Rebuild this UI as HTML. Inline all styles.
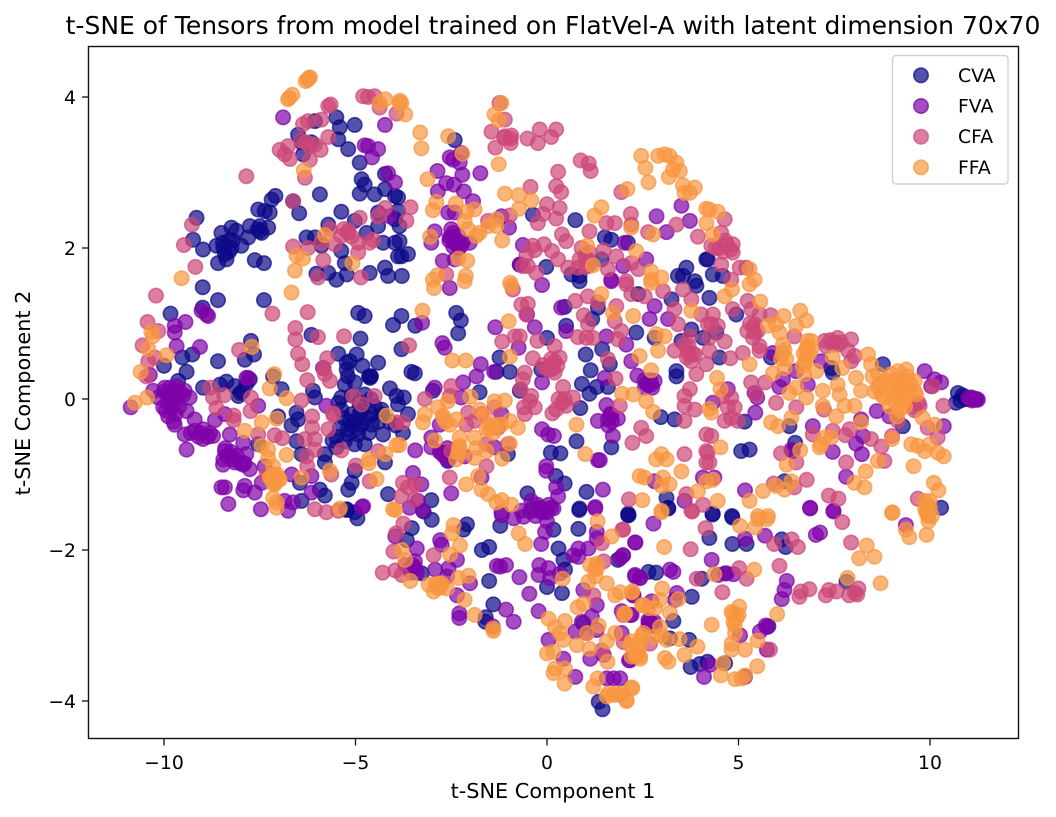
<!DOCTYPE html>
<html lang="en">
<head>
<meta charset="utf-8">
<title>t-SNE of Tensors</title>
<style>
html,body{margin:0;padding:0;background:#fff;}
#chart{display:block;width:1056px;height:817px;}
text{font-family:"DejaVu Sans","Liberation Sans",sans-serif;fill:#000;}
</style>
</head>
<body>
<svg id="chart" xmlns="http://www.w3.org/2000/svg" width="1056" height="817" viewBox="0 0 1056 817">
  <rect x="0" y="0" width="1056" height="817" fill="#fff"/>
  <g id="points"></g>
  <rect x="88.5" y="46.5" width="930" height="692" fill="none" stroke="#111" stroke-width="1.4"/>
  <g id="ticks"></g>
  <text x="553" y="34" text-anchor="middle" font-size="25">t-SNE of Tensors from model trained on FlatVel-A with latent dimension 70x70</text>
  <text x="553" y="798" text-anchor="middle" font-size="20.8">t-SNE Component 1</text>
  <text transform="translate(30,393) rotate(-90)" text-anchor="middle" font-size="20.8">t-SNE Component 2</text>
  <g>
    <rect x="892.5" y="55.5" width="115.5" height="128.5" rx="3.5" fill="#fff" fill-opacity="0.8" stroke="#d2d2d2" stroke-width="1.4"/>
    <g id="legend-items"></g>
  </g>
</svg>
<script>
const seriesNames = ["CVA","FVA","CFA","FFA"];
const seriesColors = ["#0d0887","#7e03a8","#cc4778","#f89540"];
const xTicks = [-10,-5,0,5,10];
const yTicks = [-4,-2,0,2,4];
const cvaPoints = [[-9.15,2.40],[-9.24,2.11],[-8.98,1.98],[-8.50,2.20],[-8.24,2.27],[-8.11,2.23],[-8.63,2.03],[-8.46,2.07],[-8.24,2.00],[-7.98,2.03],[-7.80,2.14],[-7.76,2.29],[-7.50,2.29],[-7.28,2.27],[-7.50,2.22],[-7.54,2.51],[-7.37,2.49],[-7.24,2.47],[-7.19,2.64],[-7.09,2.69],[-8.41,1.92],[-8.59,1.80],[-8.37,1.85],[-7.63,1.84],[-7.39,1.80],[-5.93,2.71],[-6.63,2.62],[-6.47,2.46],[-5.37,2.48],[-5.71,2.31],[-6.28,2.14],[-6.06,2.14],[-5.89,2.03],[-5.37,1.96],[-5.28,1.80],[-6.02,1.66],[-5.71,1.67],[-5.50,1.58],[-5.23,1.65],[-4.63,1.67],[-4.23,1.74],[-4.15,1.63],[-4.84,2.91],[-4.76,2.84],[-4.89,2.72],[-4.50,2.71],[-4.23,2.98],[-4.23,2.78],[-3.97,2.69],[-3.97,2.38],[-4.41,2.47],[-4.41,2.29],[-4.71,2.20],[-4.28,2.07],[-3.97,2.07],[-3.89,1.89],[-5.02,2.36],[-6.06,3.68],[-5.50,3.73],[-5.41,3.60],[-5.02,3.63],[-5.45,3.44],[-5.19,3.31],[-4.89,3.13],[-6.50,3.50],[-6.15,3.40],[-6.37,3.24],[-6.41,3.40],
[-8.99,1.48],[-8.59,1.31],[-7.39,1.31],[-9.83,1.13],[-8.99,1.21],[-4.93,1.14],[-4.76,1.10],[-4.02,0.98],[-6.15,0.85],[-4.87,0.80],[-7.73,0.77],[-7.65,0.59],[-7.89,0.52],[-8.59,0.50],[-9.26,0.59],[-9.52,0.55],[-10.0,0.44],[-9.41,0.36],[-9.63,0.24],[-8.98,0.15],[-8.54,0.19],[-8.37,0.23],[-8.15,0.17],[-8.06,0.04],[-7.76,0.26],[-5.45,0.60],[-4.97,0.59],[-5.23,0.48],[-5.23,0.39],[-4.82,0.44],[-4.41,0.48],[-4.60,0.30],[-4.60,0.30],[-5.28,0.19],[-5.02,0.22],[-4.10,0.14],[-6.11,0.11],[-6.06,0.02],[-5.37,0.02],[-4.76,0.06],[-4.32,-0.14],[-3.93,0.04],[-7.15,0.30],[-6.93,0.13],[-6.54,-0.18],[-6.67,-0.35],[-6.50,-0.27],[-7.02,-0.23],[-5.37,-0.14],[-5.10,-0.20],[-4.84,-0.16],[-4.58,-0.20],[-5.10,-0.34],[-4.84,-0.34],[-4.58,-0.34],[-5.19,-0.47],[-4.93,-0.47],[-5.41,-0.38],[-4.28,-0.47],[-5.28,-0.56],[-4.76,-0.60],[-5.02,-0.60],[-5.50,-0.64],[-5.80,-0.73],[-5.80,-0.84],[-5.02,-0.95],[-6.54,-0.56],[-6.41,-0.73],[-7.54,-0.60],[-4.23,-0.84],[-5.10,-1.11],[-5.19,-1.20],[-5.80,-1.28],[-5.93,-1.20],[-6.41,-1.35],[-4.15,-1.26],[-6.45,-1.11],[-5.23,-1.46],[-5.02,-1.50],
[-3.80,1.10],[-3.44,0.97],[-2.37,1.14],[-2.25,1.04],[-2.32,0.87],[-3.80,0.66],[-3.54,0.36],[-3.45,0.34],[-1.76,0.09],[-1.24,0.55],[-0.97,0.36],[-1.32,0.36],[-0.71,0.11],[0.0,0.81],[-0.15,0.39],[0.5,0.97],[0.46,1.22],[1.33,1.21],[1.18,1.06],[1.01,0.59],[1.44,0.66],[1.14,0.38],[0.91,0.20],[1.11,0.07],[1.30,0.16],[1.59,0.16],[1.64,0.46],[0.87,-0.12],[2.97,-0.24],[3.33,-0.27],[3.38,0.37],[3.38,0.30],[-3.74,0.02],[-3.89,-0.07],[-3.63,-0.20],[-2.98,0.11],[-3.76,-0.45],[0.77,-0.56],[1.68,-0.64],[0.10,-0.71],[0.35,-0.72],[0.23,-1.02],[0.46,-1.12],[-0.51,-1.25],[1.03,-1.23],[0.85,-1.45],[3.12,-1.31],[3.16,-1.44],[2.12,-1.52],[-3.02,-1.34],[-2.59,-0.82],[-1.02,-0.73],[0.85,1.56],[3.25,1.32],[3.77,0.92],[4.07,0.81],[2.33,0.88],[2.38,1.39],[3.90,1.50],[3.51,0.77],[2.81,0.81],
[-2.41,3.43],[-3.89,2.67],[-3.89,2.49],[-3.85,2.29],[-3.85,2.09],[-3.63,1.92],[-3.80,1.89],[-3.79,1.63],[-0.37,2.44],[0.74,2.37],[1.51,2.14],[1.68,2.11],[2.11,2.07],[-0.02,1.75],[-0.71,1.78],[0.85,1.63],[0.64,1.65],[1.42,1.85],[3.64,1.74],[3.42,1.63],[3.55,1.63],[4.16,1.85],[3.86,1.56],
[4.94,1.12],[4.42,0.88],[4.24,1.34],[4.50,0.55],[5.85,0.55],[5.16,-0.30],[6.33,-0.36],[6.48,-0.58],[6.42,-0.69],[5.07,-0.69],[5.29,-0.67],[7.42,0.41],[7.46,0.35],[8.77,0.46],[9.29,-0.36],[10.73,0.08],[10.68,-0.05],[10.90,0.02],[10.29,-1.44],[4.33,-1.52],[4.83,-1.55],[6.20,-1.09],[4.2,1.85],[4.33,1.65],[4.59,1.63],
[-4.95,-1.58],[-5.23,-1.47],[-3.01,-1.60],[-3.53,-1.71],[-3.22,-1.49],[-2.09,-1.66],[-2.18,-1.73],[-1.70,-2.0],[-1.51,-1.96],[-3.66,-1.87],[-3.27,-2.31],[-1.51,-2.41],[-1.40,-2.72],[-1.60,-2.89],[-1.61,-2.95],[-1.22,-1.68],[0.30,-1.98],[0.43,-2.13],[0.47,-2.26],[0.0,-2.49],[0.39,-2.57],[0.84,-1.47],[0.82,-1.72],[2.13,-1.54],[1.85,-2.13],[0.17,-1.73],[1.35,-4.01],[1.45,-4.11],[0.95,-2.97],[2.65,-2.29],
[2.12,-1.54],[3.17,-1.45],[4.32,-1.53],[4.84,-1.57],[4.24,-1.84],[4.84,-1.92],[5.21,-1.92],[6.13,-1.86],[6.23,-1.96],[2.85,-2.30],[4.04,-2.38],[4.65,-2.31],[3.78,-2.62],[3.30,-2.94],[3.71,-3.19],[3.21,-3.17],[4.19,-3.48],[3.99,-3.51],[3.75,-3.55],[4.65,-3.50],[5.78,-3.01],[7.82,-2.42],
[-5.3,-0.25],[-5.15,-0.3],[-5.0,-0.3],[-4.9,-0.2],[-4.7,-0.25],[-4.65,-0.45],[-4.95,-0.4],[-5.2,-0.4],[-4.4,-0.3],[-4.3,-0.2],[-4.1,-0.3],[-3.95,-0.35],[-5.45,-0.05],[-5.1,0.05],[-4.9,-0.05],[-4.6,0.0],[-4.5,-0.1],[-4.65,0.3],[-4.62,0.28],[-5.2,0.3],[-5.15,0.5],[-7.95,0.1],[-8.0,0.08],[-7.85,0.2],[10.95,0.0],[11.0,0.0],[10.85,0.05],[10.8,-0.02],[-8.3,2.1],[-8.2,2.1],[-8.45,2.0],[-8.3,1.95],[-7.55,2.25],[-7.45,2.2],[-5.6,-0.55],[-5.5,-0.5]];
const fvaPoints = [[-6.89,3.73],[-4.23,3.63],[-4.76,3.36],[-4.67,3.35],[-4.41,3.31],[-4.57,3.20],[-4.15,2.99],[-3.97,2.87],[-4.10,2.42],
[-2.54,3.20],[-2.45,3.17],[-2.24,3.26],[-2.28,3.13],[-2.86,3.02],[-2.21,2.97],[-1.74,2.99],[-2.85,2.75],[-2.63,2.86],[-2.43,2.84],[-2.17,2.75],[-1.93,2.62],[-2.58,2.47],[-2.41,2.47],[-2.93,2.22],[-3.02,2.07],[-2.50,2.25],[-2.32,2.16],[-2.54,2.14],[-2.24,2.03],[-2.41,2.07],[-2.02,2.07],[-2.72,1.83],[-2.41,1.85],[-0.99,2.27],[-1.19,2.42],[-0.63,2.04],[-0.71,1.78],[2.86,2.42],[3.12,2.21],[3.51,2.56],[3.73,2.36],[2.03,2.07],[1.99,1.76],[2.59,1.85],[1.68,1.58],
[-9.02,1.17],[-8.89,1.12],[-8.85,1.10],[-9.44,1.02],[-9.72,0.97],[-9.72,0.88],[-9.67,0.70],[-9.06,0.69],[-10.37,0.32],[-10.87,-0.11],[-10.28,0.11],[-9.98,0.15],[-9.67,0.17],[-9.46,0.11],[-9.33,0.02],[-10.15,0.02],[-9.89,0.04],[-9.72,0.02],[-10.02,-0.11],[-9.80,-0.09],[-9.41,-0.16],[-9.89,-0.23],[-9.72,-0.34],[-9.20,-0.27],[-9.46,-0.47],[-9.20,-0.42],[-8.98,-0.40],[-8.98,-0.53],[-8.72,-0.49],[-9.41,-0.67],[-8.28,-0.47],[-8.67,-0.28],[-8.41,-0.20],[-7.93,-0.58],[-8.41,-0.69],[-8.24,-0.76],[-7.85,-0.73],[-8.46,-0.87],[-8.15,-0.84],[-7.93,-0.87],[-7.76,-0.93],[-8.41,-1.17],[-8.50,-1.17],[-8.32,-1.39],[-7.89,-1.15],[-7.93,-1.21],[-7.63,-1.24],[-7.47,-1.46],[-7.45,-1.11],[-7.37,-0.89],[-6.67,-1.00],[-6.15,-1.24],[-6.15,-1.02],[-6.85,-1.35],[-6.63,-1.37],[-6.76,-1.48],[-4.80,-1.42],[-7.80,0.28],[-7.85,0.28],[-7.54,-0.09],[-5.76,-0.09],[-5.85,0.41],
[-3.26,1.01],[-2.54,1.47],[-0.13,1.51],[-1.35,0.95],[-2.73,0.74],[-2.67,0.68],[-1.73,0.46],[-1.84,0.30],[-1.38,0.36],[-0.52,1.12],[-0.32,0.95],[-0.74,0.68],[-0.13,0.22],[0.37,1.21],[0.50,0.90],[1.55,0.83],[1.68,1.56],[2.07,0.72],[2.20,0.50],[1.51,0.28],[2.36,0.31],[2.81,1.23],[2.68,1.06],[3.16,1.06],[2.72,0.19],[2.64,0.19],[2.81,0.24],[2.55,0.15],[1.55,-0.08],[1.33,-0.29],[1.59,-0.27],[1.85,-0.26],[1.68,-0.21],[1.72,-0.49],[1.33,-0.81],[1.38,-0.81],[-0.13,-0.40],[0.03,-0.47],[0.18,-0.49],[-0.02,-0.89],[-0.02,-0.95],[0.24,-1.17],[0.29,-1.29],[1.46,-1.20],[1.26,-1.43],[-0.41,-1.35],[-0.15,-1.44],[-0.67,-1.48],[0.11,-1.44],[-2.50,-1.25],[-3.50,-0.98],[-3.28,-1.13],[-3.44,-0.68],[-3.02,-0.64],[-2.76,-0.71],[-2.80,-0.34],[-3.02,-0.51],[-2.54,-0.78],[-2.15,-0.76],[-2.93,0.15],[-2.24,0.02],[-2.19,0.22],[-1.19,-0.20],[-1.28,-0.38],[-1.37,-0.64],[-3.59,-1.44],[-3.37,-1.35],[-3.24,-1.48],[-1.71,-1.04],[-1.19,-1.50],[3.59,-1.35],[2.81,-1.09],[4.07,-1.04],
[5.90,0.61],[6.16,0.26],[6.07,0.16],[5.42,0.08],[5.49,0.02],[5.44,-0.18],[4.72,0.13],[4.33,-0.05],[6.94,-0.36],[6.38,-0.67],[7.46,-0.70],[8.07,-0.59],[8.25,-0.49],[8.22,-0.73],[8.20,-0.27],[7.81,-1.03],[4.37,-1.04],[5.17,-1.21],[6.87,-1.44],[7.48,-1.48],[8.61,-0.16],[8.94,-0.23],[9.86,0.37],[10.12,0.26],[10.29,0.22],[10.03,0.17],[10.36,-0.36],[11.08,0.02],[11.16,0],[11.25,-0.01],[11.0,0.02],[7.16,0.50],[6.5,0.37],[6.81,0.19],
[-4.83,-1.43],[-3.96,-1.82],[-2.75,-1.93],[-3.40,-1.98],[-2.79,-1.87],[-3.44,-2.24],[-2.35,-2.13],[-2.92,-2.26],[-2.57,-2.24],[-2.61,-2.35],[-2.01,-2.44],[-2.35,-2.60],[-2.29,-2.84],[-2.29,-2.90],[-1.07,-2.79],[-0.87,-2.95],[-1.42,-3.01],[-1.31,-2.21],[-1.22,-2.22],[-1.07,-2.20],[-0.72,-2.36],[-0.46,-2.58],[-0.22,-2.81],[-0.15,-1.92],[-1.18,-1.54],[-0.87,-1.58],[-0.44,-1.49],[-0.18,-1.49],[0.0,-1.62],[-0.05,-1.76],[0.17,-1.45],[-0.61,-1.56],[-0.20,-2.20],[-0.22,-2.33],[0.04,-2.24],[0.08,-2.37],[0.34,-2.31],[0.69,-2.07],[0.82,-2.09],[0.82,-1.98],[1.08,-1.98],[1.30,-1.85],[2.30,-1.90],[1.98,-2.07],[2.30,-2.35],[2.43,-2.37],[2.26,-2.60],[1.30,-2.73],[1.95,-2.81],[2.21,-2.86],[1.17,-2.88],[0.95,-2.53],[0.91,-2.95],[0.74,-3.08],[0.04,-3.19],[1.13,-3.44],[2.17,-3.46],[0.74,-3.68],[1.74,-3.70],[1.56,-3.70],[0.43,-3.44],[1.04,-3.10],[1.30,-3.06],[2.65,-2.95],[1.48,-3.39],[1.30,-1.76],[1.26,-1.45],
[2.78,-1.65],[6.87,-1.45],[7.48,-1.49],[2.31,-1.90],[5.17,-1.85],[5.69,-1.81],[7.02,-1.80],[7.13,-1.77],[9.37,-1.67],[1.99,-2.07],[1.91,-2.11],[2.30,-2.33],[2.43,-2.37],[3.21,-2.26],[3.30,-2.29],[4.30,-2.13],[4.47,-2.33],[4.69,-2.31],[4.87,-2.32],[6.26,-2.41],[6.20,-2.53],[6.13,-2.65],[3.39,-2.57],[3.34,-2.66],[2.25,-2.60],[2.17,-2.86],[2.73,-2.68],[2.65,-2.93],[2.82,-3.01],[5.56,-3.08],[5.71,-3.00],[5.04,-3.13],[5.74,-3.32],[4.26,-3.52],[4.10,-3.68],[5.17,-3.68],[2.14,-3.46],[1.91,-3.70],[1.95,-3.1],
[-10.0,0.1],[-9.9,0.05],[-9.85,0.15],[-9.75,0.1],[-9.9,-0.05],[-9.8,-0.1],[-9.65,0.0],[-9.6,-0.1],[-9.95,-0.15],[-9.7,-0.2],[-9.5,0.05],[-9.6,0.1],[-9.75,-0.3],[-9.3,-0.45],[-9.1,-0.5],[-9.05,-0.45],[-8.85,-0.5],[-8.8,-0.45],[-8.4,-0.65],[-8.35,-0.75],[-8.2,-0.8],[-8.25,-0.7],[-8.1,-0.75],[-8.45,-0.8],[-8.0,-0.85],[-7.9,-0.85],[-2.5,2.15],[-2.45,2.2],[-2.4,2.1],[-2.35,2.05],[-2.45,2.02],[-2.3,2.0],[-2.55,2.1],[-2.2,2.08],[11.05,0.0],[11.1,-0.02],[11.12,0.01],[11.2,-0.01],[11.22,0.0],[0.0,-1.5],[-0.1,-1.5],[-0.2,-1.45],[0.05,-1.4],[-0.3,-1.55],[-0.4,-1.45],[-0.25,-1.4],[2.7,-2.95],[2.75,-3.0],[2.65,-3.0],[2.8,-2.95],[5.75,-3.02],[-2.6,-0.65],[-2.7,-0.75],[-2.6,-0.8],[-2.55,-0.7],[-2.8,-0.7],[2.6,0.2],[2.7,0.25],[2.55,0.25],[2.75,0.15],[1.7,-0.3],[1.6,-0.35],[1.65,-0.2],[-3.7,-2.2],[-3.6,-2.25],[-3.55,-2.3],[-3.5,-2.2],[-3.4,-2.3],[-3.45,-2.15]];
const cfaPoints = [[-7.85,2.95],[-6.63,2.62],[-9.27,2.31],[-9.48,2.04],[-9.18,1.75],[-6.32,2.93],[-6.98,3.30],[-6.76,3.35],[-6.85,3.24],[-6.71,3.18],[-6.19,3.17],[-5.91,3.30],[-6.06,3.37],[-6.41,3.42],[-5.71,3.47],[-6.37,3.64],[-6.24,3.68],[-5.89,3.70],[-5.71,3.88],[-5.65,3.90],[-4.80,4.01],[-4.67,4.00],[-4.50,4.01],[-4.37,3.86],[-3.93,3.78],[-4.89,2.40],[-4.23,2.53],[-4.41,2.42],[-5.67,2.25],[-5.19,2.23],[-5.37,2.16],[-5.89,2.07],[-6.24,2.00],[-6.63,2.02],[-5.54,2.05],[-4.93,2.07],[-4.93,1.94],[-4.54,2.11],[-4.63,2.07],[-5.84,1.84],[-5.98,1.61],[-4.86,1.61],
[-3.56,2.54],[-3.67,2.36],[-1.24,3.92],[-1.10,3.70],[-1.45,3.54],[-1.35,3.33],[-1.12,3.46],[-0.93,3.49],[-0.95,3.39],[-0.51,3.45],[-0.24,3.39],[-0.19,3.57],[0.11,3.47],[0.24,3.57],[0.88,3.16],[1.09,3.12],[1.14,3.02],[0.29,3.01],[-0.43,2.81],[0.24,2.82],[0.37,2.74],[0.0,2.58],[0.33,2.53],[0.24,2.39],[-0.24,2.33],[-0.10,2.45],[-0.97,2.43],[-1.54,2.36],[0.39,2.18],[0.50,2.09],[-0.54,1.91],[-0.37,2.03],[-0.32,1.97],[-0.08,2.05],[0.13,1.96],[0.29,1.85],[0.55,1.74],[-0.63,1.76],[-0.28,1.67],[-0.50,1.76],[-2.63,1.65],[1.94,2.74],[2.19,2.45],[2.20,2.31],[1.77,2.33],[1.55,2.33],[1.11,2.22],[2.64,2.21],[3.38,2.31],[3.94,2.15],[1.48,1.97],[0.85,1.85],[1.11,1.94],[1.81,1.89],[0.90,2.0],[1.07,1.76],[1.59,1.72],[2.20,1.80],[2.38,1.72],[2.07,1.56],[0.81,1.74],
[4.64,2.38],[4.55,2.20],[4.85,2.05],[4.50,2.0],[4.85,1.94],[4.55,1.78],[5.03,1.74],[5.2,1.74],[4.81,1.58],[4.29,2.03],
[-10.21,1.37],[-7.17,1.13],[-6.25,1.15],[-10.43,1.02],[-10.15,0.90],[-10.56,0.71],[-10.41,0.50],[-10.24,0.55],[-10.46,0.30],[-6.57,0.94],[-6.57,0.79],[-5.98,0.82],[-5.30,0.83],[-8.04,0.65],[-6.50,0.60],[-6.39,0.46],[-5.74,0.54],[-5.83,0.41],[-5.80,0.33],[-5.67,0.24],[-6.26,0.25],[-6.41,-0.02],[-8.79,0.15],[-8.72,0.02],[-8.43,0.05],[-8.63,-0.12],[-7.73,0.02],[-7.74,-0.16],[-8.18,-0.22],[-8.18,-0.28],[-5.06,0.04],[-4.50,0.04],[-4.84,-0.07],[-5.58,-0.19],[-5.58,-0.21],[-6.13,-0.23],[-6.13,-0.38],[-5.71,-0.40],[-7.54,-0.47],[-7.11,-0.48],[-6.91,-0.52],[-6.32,-0.53],[-6.06,-0.53],[-6.06,-0.67],[-6.28,-0.76],[-6.26,-0.89],[-5.37,-0.68],[-4.99,-0.88],[-4.63,-1.09],[-4.41,-0.69],[-5.63,-1.00],[-7.32,-1.0],[-6.06,-1.46],[-5.76,-1.50],[-5.45,-1.48],[-3.93,-0.31],
[-3.60,0.71],[-0.89,1.45],[-0.67,1.25],[-0.50,1.26],[-0.54,1.12],[-1.17,0.76],[-0.71,0.83],[-0.84,0.83],[-0.25,0.77],[0.20,0.70],[-0.37,0.54],[-0.58,0.35],[-0.63,0.26],[0.11,0.53],[0.33,0.55],[0.27,0.44],[0.07,0.39],[0.2,0.35],[0.42,0.16],[-0.69,0.13],[-0.41,0.04],[-0.45,-0.03],[-0.32,-0.11],[-0.58,-0.20],[-0.6,-0.11],[0.68,0.02],[0.46,0.0],[0.50,-0.09],[0.24,-0.14],[0.14,-0.19],[0.74,1.30],[0.96,1.11],[1.07,1.36],[1.07,0.99],[0.81,0.82],[1.03,0.81],[1.20,0.81],[1.33,1.28],[2.07,1.52],[1.81,1.23],[1.77,1.03],[1.94,0.90],[1.85,0.79],[1.59,0.53],[1.79,0.27],[1.90,-0.09],[2.20,1.39],[2.55,1.36],[3.03,1.43],[3.33,1.19],[3.42,0.99],[3.55,1.45],[3.77,1.32],[3.33,0.64],[3.59,0.72],[3.73,0.83],[3.68,0.64],[3.86,0.59],[3.77,0.50],[3.90,0.33],[3.73,0.13],[3.59,0.04],[3.59,-0.09],[3.86,-0.14],[3.59,-0.29],[4.16,0.46],[4.20,0.99],[4.03,1.12],[2.46,-0.38],[2.23,-0.58],[2.59,-0.49],[3.59,-0.73],[4.16,-0.69],[4.16,-0.84],[4.16,-0.47],[2.14,-1.33],[3.77,-1.48],[3.64,-1.26],[4.07,-1.40],[-2.54,-1.04],[-3.76,-1.11],[-3.45,-1.13],[-3.80,-1.29],[-3.45,-1.33],[-3.63,-1.17],[-3.19,0.0],[-2.50,0.17],[-2.54,0.04],[-2.06,-0.18],[-1.89,-0.29],[-2.11,-0.34],[-1.37,-0.11],[-1.71,-0.2],[-3.76,-0.31],[-2.50,-0.69],[-1.58,-0.89],[-1.58,-0.6],[-1.02,-0.6],
[4.33,1.12],[4.46,0.97],[4.29,0.99],[4.24,0.81],[4.64,0.76],[4.24,0.64],[4.79,0.54],[5.11,0.61],[4.85,1.19],[5.24,1.30],[5.33,1.19],[5.55,1.12],[5.84,1.11],[5.23,0.90],[5.42,0.99],[5.42,0.88],[5.38,0.81],[5.55,0.70],[5.55,0.64],[6.46,0.83],[7.25,0.77],[7.59,0.81],[7.68,0.75],[7.94,0.79],[7.46,0.72],[7.29,0.70],[7.86,0.64],[8.03,0.57],[7.94,0.5],[5.33,0.22],[5.70,0.22],[5.46,0.06],[5.98,-0.05],[6.51,-0.11],[4.59,0.04],[4.81,0.02],[4.72,-0.11],[4.90,-0.11],[4.81,-0.25],[4.64,-0.29],[4.98,-0.29],[4.29,-0.49],[4.20,-0.71],[4.24,-0.84],[6.94,-0.47],[7.46,-0.42],[7.90,-0.40],[7.79,-0.48],[8.46,-0.53],[8.73,-0.63],[9.01,-0.49],[8.81,-0.82],[7.81,-0.84],[6.11,-0.72],[6.51,-0.84],[9.73,-0.09],[9.6,-0.11],[9.94,-0.38],[10.20,-0.51],[10.35,-0.09],[10.07,0.17],[9.16,-0.29],[5.92,-1.12],[6.46,-1.17],[6.78,-1.07],[7.36,-1.28],[7.61,-1.32],[9.68,-1.32],[7.23,-0.14],
[-3.75,-1.65],[-3.94,-1.78],[-4.01,-2.02],[-2.96,-2.07],[-4.29,-2.30],[-3.96,-2.27],[-3.79,-2.33],[1.97,-1.73],[1.43,-1.91],[1.48,-2.15],[1.21,-2.60],[1.43,-3.33],[2.0,-3.22],
[1.99,-1.73],[3.79,-1.49],[4.14,-1.71],[3.75,-1.99],[5.93,-1.92],[6.39,-1.86],[6.55,-1.96],[7.71,-1.63],[7.94,-1.90],[6.07,-2.21],[5.02,-2.24],[5.21,-2.38],[3.91,-2.38],[4.58,-2.56],[6.59,-2.62],[6.63,-2.55],[6.85,-2.52],[7.28,-2.60],[7.36,-2.53],[7.56,-2.55],[7.89,-2.60],[8.04,-2.57],[8.13,-2.51],[8.1,-2.59],[5.82,-3.32],[1.99,-2.86],[2.69,-3.24],
[-0.1,0.45],[0.0,0.4],[0.1,0.45],[0.15,0.4],[0.2,0.5],[0.3,0.0],[0.4,-0.05],[4.4,2.0],[4.6,1.95],[4.7,2.05],[4.65,2.1],[4.8,1.98],[5.3,1.0],[5.4,0.95],[5.5,0.9],[3.7,0.6],[3.65,0.55],[3.7,0.7],[3.8,0.6],[1.0,1.9],[1.05,1.85],[1.15,1.8],[1.0,1.75],[7.5,0.75],[7.6,0.72],[7.4,0.78],[-6.3,3.4],[-6.2,3.35],[-5.2,2.2],[-5.3,2.25],[-5.1,2.15],[9.6,-0.15],[9.7,-0.05],[-0.95,3.45],[-1.1,3.48]];
const ffaPoints = [[-6.30,4.21],[-6.19,4.26],[-6.24,4.23],[-6.76,3.97],[-6.65,4.03],[-6.73,3.99],[-4.37,3.92],[-4.22,3.97],[-3.84,3.95],[-6.35,3.03],[-5.80,2.17],[-6.54,1.90],[-6.37,1.86],[-6.58,1.70],[-9.54,1.60],[-5.08,1.80],
[-3.80,3.92],[-3.70,3.77],[-3.85,3.92],[-1.19,3.92],[-1.37,3.77],[-1.26,3.69],[-3.31,3.53],[-3.28,3.32],[-2.58,3.48],[-2.21,3.25],[-1.26,3.11],[-3.12,2.91],[-1.10,2.72],[-0.74,2.70],[-0.41,2.63],[-0.73,2.52],[-2.89,2.61],[-2.98,2.50],[-2.38,2.59],[-2.10,2.48],[-1.89,2.51],[-2.15,2.35],[-2.06,2.25],[-1.85,2.16],[-1.76,2.20],[-1.54,2.29],[-1.32,2.38],[-1.32,2.29],[-1.17,2.10],[-3.05,2.15],[-2.31,1.86],[-2.08,1.83],[-2.86,1.64],[-2.98,1.58],[-2.12,1.63],[-0.96,1.54],[1.42,2.54],[1.24,2.43],[2.20,2.27],[2.10,2.78],[2.46,3.22],[2.57,3.06],[2.65,2.87],[2.90,3.22],[3.07,3.24],[3.20,3.22],[3.38,3.13],[3.47,3.02],[3.29,3.04],[3.18,2.94],[3.55,2.83],[3.59,2.73],[3.86,2.80],[3.73,2.73],[4.16,2.52],[4.16,2.33],[2.77,2.18],[1.05,2.03],[2.33,1.96],[1.20,1.77],[2.72,1.69],[2.72,1.58],[2.99,1.61],
[4.46,2.48],[4.24,2.51],[4.33,2.18],[5.29,1.72],[5.42,1.58],
[-6.67,1.41],[-10.33,0.89],[-10.29,0.83],[-10.41,0.66],[-9.93,0.58],[-10.61,0.36],[-10.76,-0.05],[-10.44,0.02],[-7.71,0.69],[-7.12,0.33],[-7.24,0.14],[-6.80,0.01],[-7.06,-0.26],[-7.89,-0.42],[-7.45,-0.31],[-4.19,-0.22],[-7.45,-0.62],[-7.28,-0.67],[-7.28,-0.78],[-6.80,-0.74],[-7.15,-0.89],[-7.15,-1.02],[-6.98,-1.07],[-7.24,-1.04],[-7.11,-1.13],[-6.41,-1.04],[-5.67,-0.95],[-4.65,-0.80],[-4.22,-0.73],[-4.45,-1.06],[-3.93,-0.61],[-7.15,-1.31],[-7.06,-1.37],[-7.06,-1.44],[-5.41,-1.45],[-4.02,-1.46],[-4.65,-0.85],
[-3.25,1.17],[-2.95,1.47],[-2.15,1.56],[-0.93,1.50],[-1.0,1.03],[-2.47,0.51],[-2.12,0.51],[-0.97,0.56],[1.42,1.39],[1.72,1.14],[2.25,1.10],[3.77,1.17],[2.72,1.54],[2.85,0.86],[3.07,0.83],[2.90,0.64],[2.42,0.57],[2.72,0.38],[1.96,0.07],[2.25,0.06],[2.59,-0.03],[2.77,-0.17],[0.77,-0.34],[1.0,-0.73],[2.99,-0.73],[2.85,-0.80],[3.12,-0.80],[3.51,-0.96],[2.42,-1.02],[2.55,-1.04],[3.03,-1.04],[2.99,-1.15],[3.20,-1.13],[2.49,-1.34],[2.99,-1.48],[4.16,-1.09],[3.94,-1.22],
[-2.0,0.03],[-2.59,-0.03],[-2.85,-0.11],[-3.19,-0.20],[-3.24,-0.31],[-2.72,-0.22],[-2.54,-0.34],[-2.37,-0.27],[-1.76,-0.14],[-1.37,-0.03],[-1.10,-0.02],[-1.63,-0.23],[-1.58,-0.40],[-1.37,-0.34],[-1.19,-0.34],[-0.97,-0.29],[-0.76,-0.38],[-2.93,-0.55],[-2.28,-0.51],[-2.28,-0.62],[-1.89,-0.51],[-2.32,-0.71],[-2.37,-0.80],[-1.85,-0.65],[-1.89,-0.78],[-1.58,-0.69],[-0.97,-0.59],[-1.17,-0.79],[-3.85,-0.61],[-1.80,-1.02],[-2.11,-1.13],[-1.71,-1.20],[-1.54,-1.26],[-1.32,-1.37],[-1.18,-1.34],[-0.93,-1.40],
[4.64,1.36],[4.83,1.45],[5.29,1.52],[5.57,1.29],[6.61,1.17],[6.77,1.04],[6.18,1.10],[6.51,0.97],[5.77,0.97],[5.98,0.99],[6.07,0.88],[6.16,0.72],[6.11,0.53],[6.25,0.53],[6.20,0.41],[5.90,0.34],[5.29,0.46],[6.81,0.77],[6.9,0.77],[6.77,0.66],[6.77,0.55],[6.68,0.44],[6.72,0.33],[7.03,0.37],[7.46,0.55],[7.71,0.41],[6.51,0.15],[6.33,0.08],[6.77,0.02],[7.20,0.11],[7.20,-0.09],[7.59,0.19],[7.64,0.06],[7.55,-0.23],[7.77,-0.09],[8.03,-0.09],[8.07,0.28],[8.20,0.11],[8.38,0.59],[8.46,0.46],[8.64,0.33],[8.64,0.15],[8.81,0.02],[8.99,0.33],[9.16,0.37],[9.38,0.39],[9.60,0.24],[9.42,0.15],[9.16,0.11],[9.64,0.06],[9.33,-0.03],[9.07,-0.03],[9.20,-0.14],[9.14,-0.23],[9.81,-0.25],[10.12,-0.34],[6.38,-0.25],[5.85,-0.31],[6.03,-0.36],[4.53,0.13],[4.44,0.28],[4.29,-0.18],[4.24,-0.13],[4.53,-0.64],[8.20,-0.31],[7.16,-0.60],[7.25,-0.51],[7.42,-0.51],[7.12,-0.64],[6.61,-0.68],[6.26,-0.87],[9.01,-0.53],[9.51,-0.60],[9.68,-0.62],[9.86,-0.69],[9.99,-0.60],[10.20,-0.71],[10.36,-0.76],[8.64,-0.82],[8.32,-0.96],[8.03,-1.11],[8.29,-1.17],[9.57,-0.89],[10.10,-1.11],[10.22,-1.21],[9.86,-1.35],[9.99,-1.35],[9.94,-1.44],[9.01,-1.51],[6.38,-1.09],[5.98,-1.15],[5.64,-1.22],[5.29,-1.35],[6.20,-1.20],[4.46,-1.35],[5.51,-1.55],[5.77,-1.55],[4.33,-1.07],
[-3.96,-1.47],[-2.44,-1.67],[-2.48,-1.78],[-2.27,-1.94],[-2.53,-2.06],[-3.79,-2.0],[-3.70,-2.13],[-3.57,-2.41],[-2.31,-2.37],[-2.05,-2.34],[-3.09,-2.46],[-2.96,-2.55],[-2.79,-2.44],[-2.61,-2.51],[-2.15,-2.66],[-1.89,-2.86],[-1.41,-3.04],[-1.40,-3.07],[-0.74,-1.78],[-0.57,-1.92],[1.32,-1.62],[1.69,-1.82],[1.13,-2.20],[1.30,-2.18],[1.26,-2.35],[1.08,-2.42],[1.56,-2.44],[1.78,-2.60],[1.91,-2.56],[2.23,-2.55],[0.41,-2.38],[0.80,-2.76],[0.95,-2.71],[2.02,-2.85],[0.04,-2.91],[0.21,-3.02],[0.47,-2.94],[0.34,-3.10],[0.43,-3.19],[0.0,-3.37],[0.17,-3.35],[0.78,-3.26],[1.11,-3.31],[1.04,-3.10],[1.35,-3.00],[1.78,-3.10],[1.56,-3.21],[1.58,-3.48],[0.21,-3.57],[0.47,-3.57],[0.17,-3.63],[0.46,-3.77],[1.32,-3.70],[1.21,-3.81],[1.56,-3.94],[1.78,-3.90],[1.95,-3.90],[2.08,-3.99],[2.23,-3.83],[2.48,-2.73],[2.65,-2.77],[2.43,-3.41],[2.30,-3.39],[2.48,-3.13],[2.21,-3.21],
[2.99,-1.50],[3.06,-1.96],[5.04,-1.68],[5.43,-1.70],[5.52,-1.59],[5.75,-1.59],[9.02,-1.50],[9.37,-1.73],[9.46,-1.83],[9.91,-1.80],[9.87,-1.45],[9.96,-1.62],[8.35,-1.94],[8.15,-2.11],[8.55,-2.09],[5.41,-2.26],[4.37,-2.32],[7.85,-2.37],[8.71,-2.44],[3.01,-2.51],[2.21,-2.56],[3.43,-2.65],[2.95,-2.66],[2.52,-2.73],[2.82,-2.77],[3.21,-2.83],[2.04,-2.84],[6.01,-2.85],[5.02,-2.75],[4.82,-2.82],[5.0,-2.86],[4.87,-2.95],[4.30,-2.99],[2.95,-3.02],[2.99,-3.13],[2.52,-3.10],[2.78,-3.15],[2.43,-3.21],[2.17,-3.26],[2.34,-3.35],[2.43,-3.44],[2.21,-3.41],[3.08,-3.43],[3.17,-3.48],[3.12,-3.19],[3.46,-3.18],[3.93,-3.28],[3.59,-3.39],[4.91,-3.10],[4.82,-3.24],[4.82,-3.32],[5.17,-3.32],[5.50,-3.20],[5.49,-3.54],[4.91,-3.71],[5.08,-3.70],[5.17,-3.66],[4.54,-3.66],[4.60,-3.50],[2.21,-3.82],[1.91,-3.92],[2.08,-4.0],
[-7.15,-1.0],[-7.2,-1.05],[-7.1,-1.1],[-7.05,-1.0],[-7.0,-1.05],[-7.15,-1.12],[9.0,0.2],[9.1,0.25],[9.2,0.2],[9.3,0.25],[9.4,0.3],[9.0,0.1],[9.15,0.05],[9.3,0.05],[9.45,0.1],[9.5,0.2],[9.25,0.15],[8.85,0.25],[8.7,0.2],[8.5,0.3],[8.55,0.1],[8.75,0.05],[9.6,0.1],[9.35,-0.1],[8.95,-0.1],[6.8,0.7],[6.85,0.6],[6.7,0.6],[6.75,0.5],[6.9,0.65],[6.15,0.6],[6.2,0.65],[9.95,-1.4],[9.9,-1.5],[10.0,-1.45],[9.95,-1.55],[10.05,-1.55],[-1.5,-0.4],[-1.4,-0.45],[-1.3,-0.38],[-2.3,-0.65],[-2.25,-0.72],[-1.45,-0.35],[-2.7,-0.25],[-2.65,-0.3],[4.9,-3.0],[4.85,-2.85],[4.95,-2.9],[-2.8,-2.5],[-2.75,-2.45],[-2.85,-2.5],[-2.9,-2.45],[1.6,-3.9],[1.75,-3.92],[2.4,-3.3],[2.35,-3.4],[-6.22,4.25],[1.3,-2.25],[1.25,-2.25]];

const SVG_NS = "http://www.w3.org/2000/svg";
function xScale(v){ return 547 + v * 38.3; }
function yScale(v){ return 399 - v * 75.5; }
function minusLabel(v){ return v < 0 ? "\u2212" + Math.abs(v) : String(v); }

function addMarker(parent, cx, cy, color){
  const c = document.createElementNS(SVG_NS, "circle");
  c.setAttribute("cx", cx);
  c.setAttribute("cy", cy);
  c.setAttribute("r", 7.2);
  c.setAttribute("fill", color);
  c.setAttribute("fill-opacity", 0.7);
  c.setAttribute("stroke", color);
  c.setAttribute("stroke-opacity", 0.7);
  c.setAttribute("stroke-width", 1.6);
  parent.appendChild(c);
  return c;
}

const pointsLayer = document.getElementById("points");
const allSeries = [cvaPoints, fvaPoints, cfaPoints, ffaPoints];
allSeries.forEach(function(pts, i){
  const g = document.createElementNS(SVG_NS, "g");
  
  
  pointsLayer.appendChild(g);
  pts.forEach(function(p){
    const c = addMarker(g, xScale(p[0]), yScale(p[1]), seriesColors[i]);
    
    
  });
});

const ticksLayer = document.getElementById("ticks");
function addLine(x1, y1, x2, y2){
  const l = document.createElementNS(SVG_NS, "line");
  l.setAttribute("x1", x1);
  l.setAttribute("y1", y1);
  l.setAttribute("x2", x2);
  l.setAttribute("y2", y2);
  l.setAttribute("stroke", "#111");
  l.setAttribute("stroke-width", 1.3);
  ticksLayer.appendChild(l);
  return l;
}
function addText(x, y, str, anchor){
  const t = document.createElementNS(SVG_NS, "text");
  t.setAttribute("x", x);
  t.setAttribute("y", y);
  t.setAttribute("text-anchor", anchor);
  t.setAttribute("font-size", 18.8);
  t.textContent = str;
  ticksLayer.appendChild(t);
  return t;
}
xTicks.forEach(function(v){
  const px = xScale(v);
  const mark = addLine(px, 739, px, 745.5);
  
  
  const label = addText(px, 769, minusLabel(v), "middle");
  
  
});
yTicks.forEach(function(v){
  const py = yScale(v);
  const mark = addLine(82, py, 88.5, py);
  
  
  const label = addText(76, py + 6.8, minusLabel(v), "end");
  
  
});

const legendLayer = document.getElementById("legend-items");
seriesNames.forEach(function(name, i){
  const cy = 75.3 + i * 30.7;
  const m = addMarker(legendLayer, 921, cy, seriesColors[i]);
  
  
  const t = document.createElementNS(SVG_NS, "text");
  t.setAttribute("x", 958);
  t.setAttribute("y", cy + 6.5);
  t.setAttribute("font-size", 18.8);
  t.textContent = name;
  
  
  legendLayer.appendChild(t);
});
</script>
</body>
</html>
